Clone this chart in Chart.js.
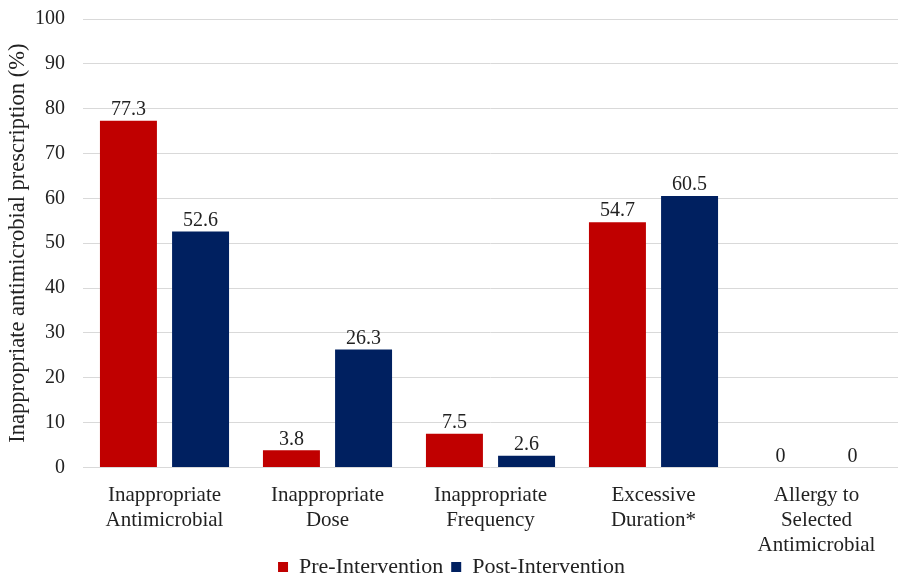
<!DOCTYPE html>
<html>
<head>
<meta charset="utf-8">
<script src="https://cdn.jsdelivr.net/npm/chart.js@4.4.0/dist/chart.umd.min.js"></script>
<style>
  html, body { margin: 0; padding: 0; background: #fff; }
  #wrap { width: 898px; height: 576px; }
</style>
</head>
<body>
<div id="wrap"><canvas id="my-chart" width="898" height="576"></canvas></div>
<script>
const categories = [
    ['Inappropriate', 'Antimicrobial'],
    ['Inappropriate', 'Dose'],
    ['Inappropriate', 'Frequency'],
    ['Excessive', 'Duration*'],
    ['Allergy to', 'Selected', 'Antimicrobial']
]
const preValues = [77.3, 3.8, 7.5, 54.7, 0]
const postValues = [52.6, 26.3, 2.6, 60.5, 0]
const yTicks = [0, 10, 20, 30, 40, 50, 60, 70, 80, 90, 100]

const serif = "'Liberation Serif', 'Times New Roman', serif"

// draws the value above every bar
const barLabels = {
    id: 'barLabels',
    afterDatasetsDraw(chart) {
        const ctx = chart.ctx
        ctx.save()
        ctx.font = '20px ' + serif
        ctx.fillStyle = '#222'
        ctx.textAlign = 'center'
        ctx.textBaseline = 'bottom'
        chart.data.datasets.forEach((ds, i) => {
            chart.getDatasetMeta(i).data.forEach((bar, j) => {
                ctx.fillText(String(ds.data[j]), bar.x, bar.y - 1)
            })
        })
        ctx.restore()
    }
}

// legend sits a bit into the label area, like the original
const legendNudge = {
    id: 'legendNudge',
    afterLayout(chart) {
        chart.legend.top -= 17
        chart.legend.bottom -= 17
    }
}

const myChart = new Chart(document.getElementById('my-chart'), {
    type: 'bar',
    data: {
        labels: categories,
        datasets: [{
            label: 'Pre-Intervention',
            data: preValues,
            backgroundColor: '#c00000',
            borderWidth: 0,
            categoryPercentage: 0.885,
            barPercentage: 0.79
        }, {
            label: 'Post-Intervention',
            data: postValues,
            backgroundColor: '#002060',
            borderWidth: 0,
            categoryPercentage: 0.885,
            barPercentage: 0.79
        }]
    },
    options: {
        responsive: false,
        animation: false,
        layout: { padding: { top: 2, right: 0, left: 5, bottom: -29 } },
        plugins: {
            legend: {
                position: 'bottom',
                labels: {
                    font: { family: serif, size: 22 },
                    color: '#222',
                    boxWidth: 10,
                    boxHeight: 10,
                    padding: 8
                }
            },
            tooltip: { enabled: false }
        },
        scales: {
            x: {
                grid: { display: false },
                border: { display: false },
                ticks: {
                    font: { family: serif, size: 21, lineHeight: 1.2 },
                    color: '#222',
                    maxRotation: 0,
                    padding: 7
                }
            },
            y: {
                min: 0,
                max: 100,
                afterBuildTicks: (axis) => {
                    axis.ticks = yTicks.map(v => ({ value: v }))
                },
                afterFit: (scale) => { scale.width = 78 },
                grid: { color: '#d9d9d9', lineWidth: 1, tickColor: 'rgba(0,0,0,0)', tickLength: 11 },
                border: { display: false },
                ticks: {
                    font: { family: serif, size: 20 },
                    color: '#222',
                    padding: 7
                },
                title: {
                    display: true,
                    text: 'Inappropriate antimicrobial prescription (%)',
                    font: { family: serif, size: 22.5 },
                    color: '#222',
                    padding: { top: 0, bottom: 2 }
                }
            }
        }
    },
    plugins: [barLabels, legendNudge]
});
</script>
</body>
</html>
